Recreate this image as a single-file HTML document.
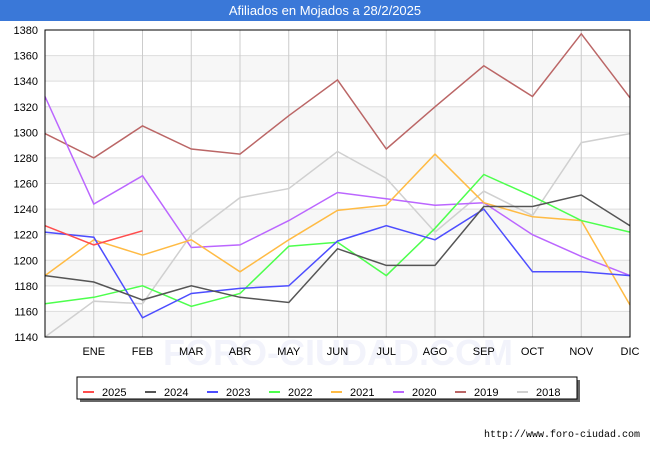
<!DOCTYPE html>
<html><head><meta charset="utf-8"><style>
body{margin:0;background:#fff;font-family:"Liberation Sans",sans-serif}
#wrap{position:relative;width:650px;height:450px;overflow:hidden;background:#fff}
</style></head><body>
<div id="wrap">
<svg id="svg" width="650" height="450" xmlns="http://www.w3.org/2000/svg">
<rect x="0" y="0" width="650" height="21" fill="#3a78d8"/>
<text x="325" y="15" text-anchor="middle" fill="#fff" font-size="13" font-family="Liberation Sans, sans-serif">Afiliados en Mojados a 28/2/2025</text>
<g id="bands"></g><g id="grid"></g>
<text x="338" y="365" text-anchor="middle" fill="#f2f3fb" font-size="36" font-weight="bold" font-family="Liberation Sans, sans-serif">FORO-CIUDAD.COM</text>
<g id="series"></g>
<rect x="45" y="30" width="585" height="307" fill="none" stroke="#000" stroke-width="1"/>
<g id="labels"></g>
<g id="legend"></g>
<text x="640" y="437" text-anchor="end" font-size="10" fill="#000" font-family="Liberation Mono, monospace">http://www.foro-ciudad.com</text>
</svg>
</div>
<script>
const months=["","ENE","FEB","MAR","ABR","MAY","JUN","JUL","AGO","SEP","OCT","NOV","DIC"];
const yTicks=[1140,1160,1180,1200,1220,1240,1260,1280,1300,1320,1340,1360,1380];
const seriesNames=["2025","2024","2023","2022","2021","2020","2019","2018"];
const seriesColors=["#ff4d4d","#555555","#4d4dff","#4dff4d","#ffbb44","#bb66ff","#bb6666","#d0d0d0"];
const v2025=[1227,1212,1223];
const v2024=[1188,1183,1169,1180,1171,1167,1209,1196,1196,1242,1242,1251,1227];
const v2023=[1222,1218,1155,1174,1178,1180,1215,1227,1216,1240,1191,1191,1188];
const v2022=[1166,1171,1180,1164,1174,1211,1214,1188,1225,1267,1250,1231,1222];
const v2021=[1188,1216,1204,1216,1191,1216,1239,1243,1283,1245,1234,1231,1165];
const v2020=[1328,1244,1266,1210,1212,1231,1253,1248,1243,1245,1220,1203,1188];
const v2019=[1299,1280,1305,1287,1283,1313,1341,1287,1320,1352,1328,1377,1327];
const v2018=[1140,1168,1166,1220,1249,1256,1285,1264,1222,1254,1235,1292,1299];
const allSeries=[v2025,v2024,v2023,v2022,v2021,v2020,v2019,v2018];
const NS="http://www.w3.org/2000/svg";
const X0=45,X1=630,Y0=30,Y1=337,YMIN=1140,YMAX=1380;
const xs=i=>X0+i*(X1-X0)/12;
const ys=v=>Y1-(v-YMIN)*(Y1-Y0)/(YMAX-YMIN);
function mk(tag,attrs,parent){const e=document.createElementNS(NS,tag);for(const k in attrs)e.setAttribute(k,attrs[k]);document.getElementById(parent).appendChild(e);return e;}
for(let i=0;i<yTicks.length-1;i+=2){
 const r=mk("rect",{x:X0,y:ys(yTicks[i+1]),width:X1-X0,height:ys(yTicks[i])-ys(yTicks[i+1]),fill:"#f7f7f7"},"bands");
 
 
}
yTicks.forEach(t=>{
 const l=mk("line",{x1:X0,x2:X1,y1:ys(t),y2:ys(t),stroke:"#dddddd","stroke-width":1},"grid");
 
 
 const tx=mk("text",{x:38,y:ys(t)+4,"text-anchor":"end","font-size":11,fill:"#000","font-family":"Liberation Sans, sans-serif"},"labels");
 tx.textContent=t;
 
 
});
months.forEach((m,i)=>{
 if(i===0)return;
 const l=mk("line",{x1:xs(i),x2:xs(i),y1:Y0,y2:Y1,stroke:"#cccccc","stroke-width":1},"grid");
 
 
 const tx=mk("text",{x:xs(i),y:355,"text-anchor":"middle","font-size":11,fill:"#000","font-family":"Liberation Sans, sans-serif"},"labels");
 tx.textContent=m;
 
 
});
for(let s=allSeries.length-1;s>=0;s--){
 const pts=allSeries[s].map((v,i)=>xs(i).toFixed(1)+","+ys(v).toFixed(1)).join(" ");
 const p=mk("polyline",{points:pts,fill:"none",stroke:seriesColors[s],"stroke-width":1.5},"series");
 
 
}
const lb=mk("rect",{x:80,y:380,width:500,height:22,fill:"#666"},"legend");


const lf=mk("rect",{x:77,y:377,width:500,height:22,fill:"#fff",stroke:"#000","stroke-width":1},"legend");


seriesNames.forEach((n,i)=>{
 const x=83+i*62;
 const l=mk("line",{x1:x,x2:x+11,y1:392,y2:392,stroke:seriesColors[i],"stroke-width":2},"legend");
 
 
 const t=mk("text",{x:x+19,y:396,"font-size":11,fill:"#000","font-family":"Liberation Sans, sans-serif"},"legend");
 t.textContent=n;
 
 
});
</script>
</body></html>
